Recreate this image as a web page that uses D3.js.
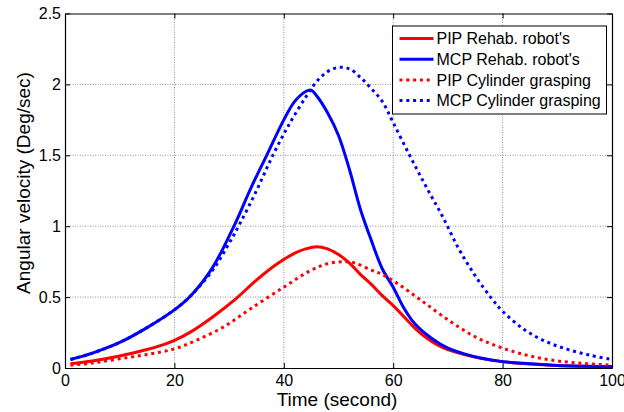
<!DOCTYPE html>
<html>
<head>
<meta charset="utf-8">
<script src="https://cdn.jsdelivr.net/npm/d3@7"></script>
<style>
body{margin:0;background:#fff;}
text{font-family:"Liberation Sans",Arial,sans-serif;fill:#000;}
</style>
</head>
<body>
<div id="chart"></div>
<script>
// time (s) and angular velocity (deg/sec)
var pipRehabT=[1,5,10,15,18,20,23,27,31,35,39,42,44,46,48,50,52,54,56,58,60,62,64,66,68,70,73,76,80,85,90,95,100];
var pipRehabV=[0.03,0.05,0.085,0.13,0.165,0.195,0.255,0.36,0.48,0.62,0.74,0.81,0.84,0.855,0.84,0.80,0.74,0.66,0.59,0.51,0.44,0.36,0.28,0.215,0.165,0.13,0.095,0.068,0.045,0.028,0.018,0.012,0.01];

var mcpRehabT=[1,5,10,15,20,23,27,31,34,37,40,42,44,45,46,48,50,52,54,56,58,60,62,64,67,70,73,76,80,85,90,95,100];
var mcpRehabV=[0.06,0.105,0.18,0.285,0.41,0.51,0.71,1.01,1.27,1.51,1.75,1.88,1.95,1.96,1.92,1.80,1.64,1.40,1.12,0.90,0.70,0.57,0.42,0.31,0.21,0.14,0.10,0.07,0.045,0.03,0.018,0.012,0.008];

var pipCylT=[1,5,10,15,20,24,29,34,40,45,48,51,53,56,58,61,65,70,75,80,85,90,95,100];
var pipCylV=[0.02,0.035,0.065,0.095,0.135,0.195,0.29,0.42,0.57,0.69,0.735,0.75,0.74,0.69,0.66,0.59,0.48,0.34,0.22,0.14,0.085,0.05,0.032,0.02];

var mcpCylT=[1,5,10,15,20,23,27,30,32,35,38,41,44,46,48,50,52,54,56,58,60,63,66,69,72,75,78,80,84,88,92,96,100];
var mcpCylV=[0.06,0.105,0.18,0.285,0.41,0.51,0.69,0.88,1.02,1.25,1.50,1.72,1.91,2.02,2.09,2.12,2.11,2.05,1.97,1.88,1.73,1.50,1.28,1.07,0.84,0.65,0.49,0.40,0.27,0.185,0.13,0.09,0.06];

var seriesNames=["PIP Rehab. robot's","MCP Rehab. robot's","PIP Cylinder grasping","MCP Cylinder grasping"];
var xTicks=[0,20,40,60,80,100];
var yTicks=[0,0.5,1,1.5,2,2.5];

var width=624,height=412;
var margin={top:13.5,right:12,bottom:44,left:65};

var svg=d3.select("#chart").append("svg")
    .attr("width",width)
    .attr("height",height);

var x=d3.scaleLinear().domain([0,100]).range([margin.left,width-margin.right]);
var y=d3.scaleLinear().domain([0,2.5]).range([height-margin.bottom,margin.top]);

// grid
svg.append("g").selectAll("line").data(xTicks.slice(1,-1)).enter().append("line")
    .attr("x1",function(d){return x(d);}).attr("x2",function(d){return x(d);})
    .attr("y1",y(0)).attr("y2",y(2.5))
    .style("stroke","#666").style("stroke-width",0.7).style("stroke-dasharray","1,1.5");
svg.append("g").selectAll("line").data(yTicks.slice(1,-1)).enter().append("line")
    .attr("y1",function(d){return y(d);}).attr("y2",function(d){return y(d);})
    .attr("x1",x(0)).attr("x2",x(100))
    .style("stroke","#666").style("stroke-width",0.7).style("stroke-dasharray","1,1.5");

// axes with inward ticks
var gx=svg.append("g").attr("transform","translate(0,"+y(0)+")")
    .call(d3.axisBottom(x).tickValues(xTicks).tickSizeInner(-5).tickSizeOuter(0).tickPadding(7));
var gxt=svg.append("g").attr("transform","translate(0,"+y(2.5)+")")
    .call(d3.axisTop(x).tickValues(xTicks).tickSizeInner(-5).tickSizeOuter(0).tickFormat(""));
var gy=svg.append("g").attr("transform","translate("+x(0)+",0)")
    .call(d3.axisLeft(y).tickValues(yTicks).tickSizeInner(-5).tickSizeOuter(0).tickPadding(4).tickFormat(d3.format("")));
var gyr=svg.append("g").attr("transform","translate("+x(100)+",0)")
    .call(d3.axisRight(y).tickValues(yTicks).tickSizeInner(-5).tickSizeOuter(0).tickFormat(""));
[gx,gxt,gy,gyr].forEach(function(g){
    g.select(".domain").style("stroke","#000").style("stroke-width",1.2);
    g.selectAll(".tick line").style("stroke","#000");
    g.selectAll("text").style("font-size","16px").style("font-family","Liberation Sans, Arial, sans-serif");
});

// curves
var series=[
    {t:pipRehabT,v:pipRehabV,color:"#ff0000",dash:null},
    {t:mcpRehabT,v:mcpRehabV,color:"#0000ff",dash:null},
    {t:pipCylT,v:pipCylV,color:"#ff0000",dash:"3,3.8"},
    {t:mcpCylT,v:mcpCylV,color:"#0000ff",dash:"3,3.8"}
];
var line=d3.line().x(function(d){return x(d[0]);}).y(function(d){return y(d[1]);}).curve(d3.curveCatmullRom);

svg.selectAll("path.curve").data(series).enter().append("path")
    .attr("class","curve")
    .attr("d",function(s){return line(d3.zip(s.t,s.v));})
    .style("fill","none")
    .style("stroke",function(s){return s.color;})
    .style("stroke-width",3)
    .style("stroke-dasharray",function(s){return s.dash;});

// axis labels
svg.append("text")
    .attr("x",337).attr("y",406)
    .attr("text-anchor","middle")
    .style("font-size","19px")
    .text("Time (second)");
svg.append("text")
    .attr("transform","translate(29.5,183) rotate(-90)")
    .attr("text-anchor","middle")
    .style("font-size","19px")
    .text("Angular velocity (Deg/sec)");

// legend
var lg=svg.append("g").attr("transform","translate(392.5,26)");
lg.append("rect").attr("width",214).attr("height",88)
    .style("fill","#fff").style("stroke","#000").style("stroke-width",1);
var row=lg.selectAll("g.row").data(series).enter().append("g")
    .attr("transform",function(d,i){return "translate(0,"+(12.5+i*20.7)+")";});
row.append("line").attr("x1",7).attr("x2",41).attr("y1",0).attr("y2",0)
    .style("stroke",function(s){return s.color;})
    .style("stroke-width",3)
    .style("stroke-dasharray",function(s){return s.dash;});
row.append("text").attr("x",44).attr("y",0).attr("dy","0.35em")
    .style("font-size","16px")
    .text(function(d,i){return seriesNames[i];});
</script>
</body>
</html>
